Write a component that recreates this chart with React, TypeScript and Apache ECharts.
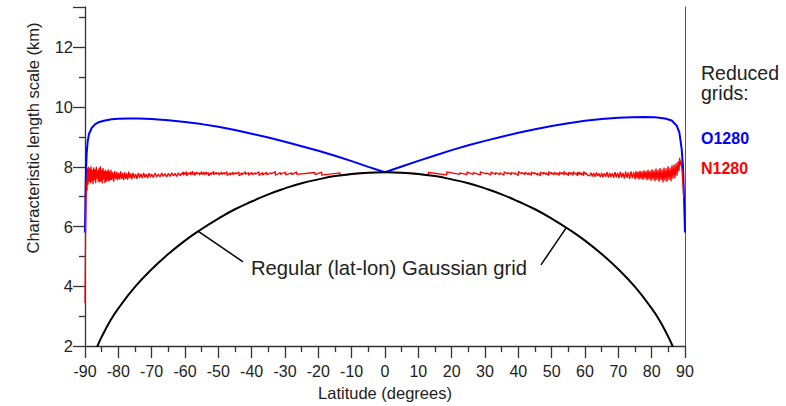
import React, { useEffect, useRef } from "react";
import * as echarts from "echarts";

// ---------- Data ----------
const yTitle = "Characteristic length scale (km)";
const xTitle = "Latitude (degrees)";
const annotationText = "Regular (lat-lon) Gaussian grid";
const legendTitle = ["Reduced", "grids:"];
const seriesNames = ["O1280", "N1280", "Regular"];

// Regular (lat-lon) Gaussian grid
const regularGrid: number[][] = [
  [-87, 1.79], [-86, 2.07], [-85, 2.31], [-82.5, 2.83], [-80, 3.26], [-75, 3.98], [-70, 4.57],
  [-65, 5.08], [-60, 5.53], [-55, 5.92], [-50, 6.27], [-45, 6.58], [-40, 6.84], [-35, 7.08],
  [-30, 7.28], [-25, 7.45], [-20, 7.58], [-15, 7.69], [-10, 7.76], [-5, 7.805], [0, 7.82],
  [5, 7.805], [10, 7.76], [15, 7.69], [20, 7.58], [25, 7.45], [30, 7.28], [35, 7.08],
  [40, 6.84], [45, 6.58], [50, 6.27], [55, 5.92], [60, 5.53], [65, 5.08], [70, 4.57],
  [75, 3.98], [80, 3.26], [82.5, 2.83], [85, 2.31], [86, 2.07], [87, 1.79],
];

// O1280 octahedral reduced grid
const o1280: number[][] = [
  [-90, 5.8], [-89.85, 7.0], [-89.7, 7.85], [-89.5, 8.45], [-89.2, 8.85], [-88.8, 9.1],
  [-88.0, 9.3], [-87.0, 9.42], [-86.0, 9.49], [-84, 9.55], [-82, 9.59], [-80, 9.61],
  [-77, 9.62], [-74, 9.62], [-70, 9.6], [-65, 9.56], [-60, 9.5], [-55, 9.43], [-50, 9.34],
  [-45, 9.23], [-40, 9.11], [-35, 8.98], [-30, 8.84], [-25, 8.69], [-20, 8.54], [-15, 8.37],
  [-10, 8.19], [-5, 8.0], [0, 7.82], [5, 8.01], [10, 8.2], [15, 8.38], [20, 8.56], [25, 8.72],
  [30, 8.87], [35, 9.01], [40, 9.14], [45, 9.26], [50, 9.37], [55, 9.46], [60, 9.54],
  [65, 9.6], [70, 9.64], [74, 9.66], [78, 9.67], [81, 9.66], [84, 9.62], [86, 9.55],
  [87.5, 9.38], [88.3, 9.15], [89.0, 8.6], [89.4, 8.0], [89.7, 7.0], [90, 5.8],
];

// N1280 reduced Gaussian grid: southern polar noisy part
const n1280SouthPolar: number[][] = [
  [-90.0, 3.45], [-89.85, 5.6], [-89.7, 6.9], [-89.55, 7.5], [-89.4, 7.2], [-89.25, 7.95],
  [-89.1, 7.4], [-88.95, 8.0], [-88.8, 7.5], [-88.6, 7.95], [-88.4, 7.45], [-88.2, 8.02],
  [-88.0, 7.5], [-87.8, 7.9], [-87.6, 7.42], [-87.4, 7.98], [-87.2, 7.55], [-87.0, 7.92],
  [-86.8, 7.45], [-86.6, 8.0], [-86.4, 7.6], [-86.2, 7.88], [-86.0, 7.5], [-85.8, 7.95],
  [-85.6, 7.48], [-85.4, 8.02], [-85.2, 7.52], [-85.0, 7.9], [-84.8, 7.44], [-84.6, 7.96],
  [-84.4, 7.58], [-84.2, 7.86], [-84.0, 7.46], [-83.8, 7.9], [-83.6, 7.5], [-83.4, 7.85],
  [-83.2, 7.55], [-83.0, 7.92], [-82.8, 7.5], [-82.6, 7.84], [-82.4, 7.56], [-82.2, 7.9],
  [-82.0, 7.55], [-81.7, 7.82], [-81.4, 7.5], [-81.1, 7.86], [-80.8, 7.58], [-80.5, 7.83],
  [-80.2, 7.55], [-79.9, 7.8], [-79.6, 7.58], [-79.3, 7.85], [-79.0, 7.6], [-78.7, 7.8],
  [-78.4, 7.55], [-78.1, 7.82], [-77.8, 7.6], [-77.5, 7.78], [-77.2, 7.57], [-76.9, 7.84],
  [-76.6, 7.62], [-76.3, 7.78], [-76.0, 7.58], [-75.6, 7.8], [-75.2, 7.62], [-74.8, 7.76],
  [-74.4, 7.6], [-74.0, 7.8], [-73.6, 7.63], [-73.2, 7.77], [-72.8, 7.62], [-72.4, 7.8],
  [-72.0, 7.64], [-71.6, 7.76], [-71.2, 7.62], [-70.8, 7.79], [-70.4, 7.65], [-70.0, 7.76],
  [-69.5, 7.64], [-69.0, 7.79], [-68.5, 7.66], [-68.0, 7.76], [-67.5, 7.66], [-67.0, 7.79],
  [-66.5, 7.68], [-66.0, 7.77], [-65.5, 7.66], [-65.0, 7.78], [-64.5, 7.68], [-64.0, 7.8],
  [-63.5, 7.7], [-63.0, 7.78], [-62.5, 7.68], [-62.0, 7.8], [-61.5, 7.7], [-61.0, 7.79],
];

// N1280 southern sawtooth bands (|lat| of band edges, value at start/end of each band)
const southBandEdges = [13.5, 19.0, 21.0, 26.5, 28.0, 29.8, 31.4, 32.9, 34.2, 35.5, 36.7, 37.8,
  38.9, 39.9, 40.9, 41.9, 42.9, 43.8, 44.7, 45.6, 46.5, 47.4, 48.2, 49.0, 49.8, 50.6, 51.4, 52.2,
  52.9, 53.6, 54.3, 55.0, 55.7, 56.4, 57.1, 57.7, 58.3, 58.9, 59.5, 60.1, 60.5, 61.0];
const southBandTop = [7.80, 7.82, 7.81, 7.83, 7.80, 7.82, 7.81, 7.84, 7.80, 7.82, 7.81, 7.83,
  7.80, 7.82, 7.81, 7.84, 7.80, 7.83, 7.81, 7.82, 7.80, 7.84, 7.81, 7.83, 7.80, 7.82, 7.85, 7.81,
  7.80, 7.83, 7.82, 7.84, 7.80, 7.83, 7.81, 7.85, 7.82, 7.80, 7.84, 7.81, 7.83];
const southBandBottom = [7.72, 7.74, 7.75, 7.74, 7.73, 7.75, 7.72, 7.76, 7.74, 7.73, 7.71, 7.75,
  7.74, 7.72, 7.75, 7.73, 7.70, 7.76, 7.74, 7.73, 7.71, 7.75, 7.74, 7.72, 7.76, 7.73, 7.74, 7.70,
  7.75, 7.73, 7.74, 7.72, 7.76, 7.71, 7.74, 7.73, 7.75, 7.70, 7.74, 7.72, 7.75];

// N1280 equatorial part (same as regular grid)
const n1280Equator: number[][] = [
  [-13.5, 7.71], [-10, 7.76], [-5, 7.805], [0, 7.82], [5, 7.805], [10, 7.76], [13, 7.725],
];

// N1280 northern sawtooth bands
const northBandEdges = [13, 18.5, 22.4, 24.6, 26.5, 28.6, 30.3, 31.8, 33.2, 34.5, 35.7, 36.8,
  37.9, 39.0, 40.0, 41.0, 42.0, 43.0, 43.9, 44.8, 45.7, 46.6, 47.5, 48.3, 49.1, 49.9, 50.7, 51.5,
  52.3, 53.0, 53.7, 54.4, 55.1, 55.8, 56.5, 57.2, 57.8, 58.4, 59.0, 59.6, 60.2, 60.8];
const northBandTop = [7.81, 7.83, 7.80, 7.82, 7.81, 7.83, 7.80, 7.82, 7.81, 7.80, 7.83, 7.81,
  7.82, 7.80, 7.84, 7.81, 7.82, 7.80, 7.83, 7.81, 7.79, 7.83, 7.82, 7.80, 7.84, 7.81, 7.82, 7.80,
  7.83, 7.81, 7.85, 7.80, 7.82, 7.81, 7.84, 7.80, 7.83, 7.82, 7.80, 7.84, 7.81];
const northBandBottom = [7.73, 7.75, 7.74, 7.75, 7.73, 7.76, 7.73, 7.75, 7.74, 7.72, 7.76, 7.74,
  7.75, 7.71, 7.77, 7.74, 7.74, 7.72, 7.76, 7.73, 7.70, 7.75, 7.74, 7.71, 7.76, 7.73, 7.74, 7.72,
  7.75, 7.73, 7.74, 7.71, 7.75, 7.72, 7.75, 7.70, 7.74, 7.73, 7.71, 7.75, 7.72];

// N1280 northern polar noisy part
const n1280NorthPolar: number[][] = [
  [61.4, 7.70], [61.8, 7.80], [62.2, 7.68], [62.6, 7.79], [63.0, 7.67], [63.4, 7.81],
  [63.8, 7.69], [64.2, 7.78], [64.6, 7.66], [65.0, 7.80], [65.4, 7.65], [65.8, 7.79],
  [66.2, 7.67], [66.6, 7.82], [67.0, 7.64], [67.4, 7.80], [67.8, 7.66], [68.2, 7.79],
  [68.6, 7.63], [69.0, 7.82], [69.4, 7.65], [69.8, 7.80], [70.2, 7.62], [70.6, 7.83],
  [71.0, 7.64], [71.4, 7.80], [71.8, 7.61], [72.2, 7.84], [72.6, 7.63], [73.0, 7.81],
  [73.4, 7.60], [73.8, 7.85], [74.2, 7.62], [74.6, 7.82], [75.0, 7.59], [75.3, 7.86],
  [75.6, 7.61], [75.9, 7.84], [76.2, 7.58], [76.5, 7.87], [76.8, 7.60], [77.1, 7.85],
  [77.4, 7.57], [77.7, 7.88], [78.0, 7.60], [78.3, 7.86], [78.6, 7.55], [78.9, 7.90],
  [79.2, 7.58], [79.5, 7.87], [79.8, 7.54], [80.1, 7.92], [80.4, 7.57], [80.7, 7.88],
  [81.0, 7.52], [81.3, 7.94], [81.6, 7.56], [81.9, 7.90], [82.2, 7.50], [82.5, 7.96],
  [82.8, 7.55], [83.1, 7.92], [83.4, 7.48], [83.7, 7.98], [84.0, 7.54], [84.3, 7.95],
  [84.6, 7.50], [84.9, 8.02], [85.2, 7.56], [85.5, 7.98], [85.8, 7.52], [86.1, 8.05],
  [86.4, 7.60], [86.7, 8.08], [87.0, 7.62], [87.3, 8.12], [87.6, 7.70], [87.9, 8.18],
  [88.2, 7.85], [88.4, 8.30], [88.6, 8.05], [88.8, 8.22], [89.1, 7.9], [89.4, 7.4], [89.6, 6.95],
];

// Leader lines of the annotation: [curve point, text end]
const leaderLines: number[][][] = [
  [[-56.1, 5.85], [-42.6, 4.82]],
  [[54.3, 5.95], [46.8, 4.72]],
];

// ---------- helpers ----------
function bandPairs(edges: number[], tops: number[], bottoms: number[], sign: number): number[][] {
  const pts: number[][] = [];
  for (let i = 0; i < tops.length; i++) {
    pts.push([sign * edges[i], tops[i]]);
    pts.push([sign * edges[i + 1], bottoms[i]]);
  }
  return pts;
}

const n1280: number[][] = [
  ...n1280SouthPolar,
  ...bandPairs(southBandEdges, southBandTop, southBandBottom, -1).reverse(),
  ...n1280Equator,
  ...bandPairs(northBandEdges, northBandTop, northBandBottom, 1),
  ...n1280NorthPolar,
];

const FONT = "'Liberation Sans', Arial, Helvetica, sans-serif";
const AXIS_COLOR = "#333";
const TEXT_COLOR = "#222";

export default function App() {
  const ref = useRef<HTMLDivElement>(null);

  useEffect(() => {
    if (!ref.current) return;
    const chart = echarts.init(ref.current, null, { renderer: "svg" });
    const axisLineStyle = { color: AXIS_COLOR, width: 1.3 };
    chart.setOption({
      animation: false,
      backgroundColor: "#fff",
      textStyle: { fontFamily: FONT },
      grid: { left: 85, right: 101, top: 7, bottom: 57, containLabel: false },
      xAxis: {
        type: "value",
        min: -90,
        max: 90,
        interval: 10,
        name: xTitle,
        nameLocation: "middle",
        nameGap: 34,
        nameTextStyle: { fontSize: 16.5, color: TEXT_COLOR, fontFamily: FONT },
        axisLine: { show: true, onZero: false, lineStyle: axisLineStyle },
        axisTick: { show: true, length: 12, inside: false, lineStyle: axisLineStyle },
        minorTick: { show: true, splitNumber: 2, length: 6, lineStyle: axisLineStyle },
        axisLabel: { fontSize: 16, color: TEXT_COLOR, margin: 17, fontFamily: FONT },
        splitLine: { show: false },
      },
      yAxis: [
        {
          type: "value",
          min: 2,
          max: 13.35,
          interval: 2,
          position: "left",
          axisLine: { show: true, onZero: false, lineStyle: axisLineStyle },
          axisTick: { show: true, length: 12, inside: false, lineStyle: axisLineStyle },
          minorTick: { show: true, splitNumber: 2, length: 6, lineStyle: axisLineStyle },
          axisLabel: { fontSize: 16.5, color: TEXT_COLOR, margin: 12, fontFamily: FONT, showMaxLabel: false },
          splitLine: { show: false },
        },
        {
          type: "value",
          min: 2,
          max: 13.35,
          position: "right",
          axisLine: { show: true, onZero: false, lineStyle: { color: "#555", width: 1 } },
          axisTick: { show: false },
          axisLabel: { show: false },
          splitLine: { show: false },
        },
      ],
      series: [
        {
          name: seriesNames[0],
          type: "line",
          data: o1280,
          showSymbol: false,
          symbol: "none",
          lineStyle: { color: "#0000ff", width: 2 },
          clip: true,
          z: 2,
        },
        {
          name: seriesNames[1],
          type: "line",
          data: n1280,
          showSymbol: false,
          symbol: "none",
          lineStyle: { color: "#ff0000", width: 1.3 },
          clip: true,
          z: 3,
        },
        {
          name: seriesNames[2],
          type: "line",
          data: regularGrid,
          smooth: true,
          showSymbol: false,
          symbol: "none",
          lineStyle: { color: "#000", width: 2 },
          clip: true,
          z: 4,
          markLine: {
            silent: true,
            symbol: ["none", "none"],
            label: { show: false },
            lineStyle: { color: "#000", width: 1.5, type: "solid" },
            data: leaderLines.map((l) => [{ coord: l[0] }, { coord: l[1] }]),
          },
        },
      ],
      graphic: [
        {
          type: "text",
          x: 33,
          y: 138,
          rotation: Math.PI / 2,
          style: {
            text: yTitle,
            fontSize: 16.5,
            fontFamily: FONT,
            fill: TEXT_COLOR,
            align: "center",
            verticalAlign: "middle",
          },
        },
        {
          type: "text",
          x: 389,
          y: 268,
          style: {
            text: annotationText,
            fontSize: 20.3,
            fontFamily: FONT,
            fill: TEXT_COLOR,
            align: "center",
            verticalAlign: "middle",
          },
        },
        {
          type: "text",
          x: 701,
          y: 73,
          style: { text: legendTitle[0], fontSize: 19.5, fontFamily: FONT, fill: TEXT_COLOR, align: "left", verticalAlign: "middle" },
        },
        {
          type: "text",
          x: 701,
          y: 93,
          style: { text: legendTitle[1], fontSize: 19.5, fontFamily: FONT, fill: TEXT_COLOR, align: "left", verticalAlign: "middle" },
        },
        {
          type: "text",
          x: 701,
          y: 138.5,
          style: { text: seriesNames[0], fontSize: 16, fontWeight: "bold", fontFamily: FONT, fill: "#0000ff", align: "left", verticalAlign: "middle" },
        },
        {
          type: "text",
          x: 701,
          y: 168.5,
          style: { text: seriesNames[1], fontSize: 16, fontWeight: "bold", fontFamily: FONT, fill: "#ff0000", align: "left", verticalAlign: "middle" },
        },
      ],
    });
    return () => chart.dispose();
  }, []);

  return <div ref={ref} style={{ width: 786, height: 406, position: "absolute", left: 0, top: 0 }} />;
}
